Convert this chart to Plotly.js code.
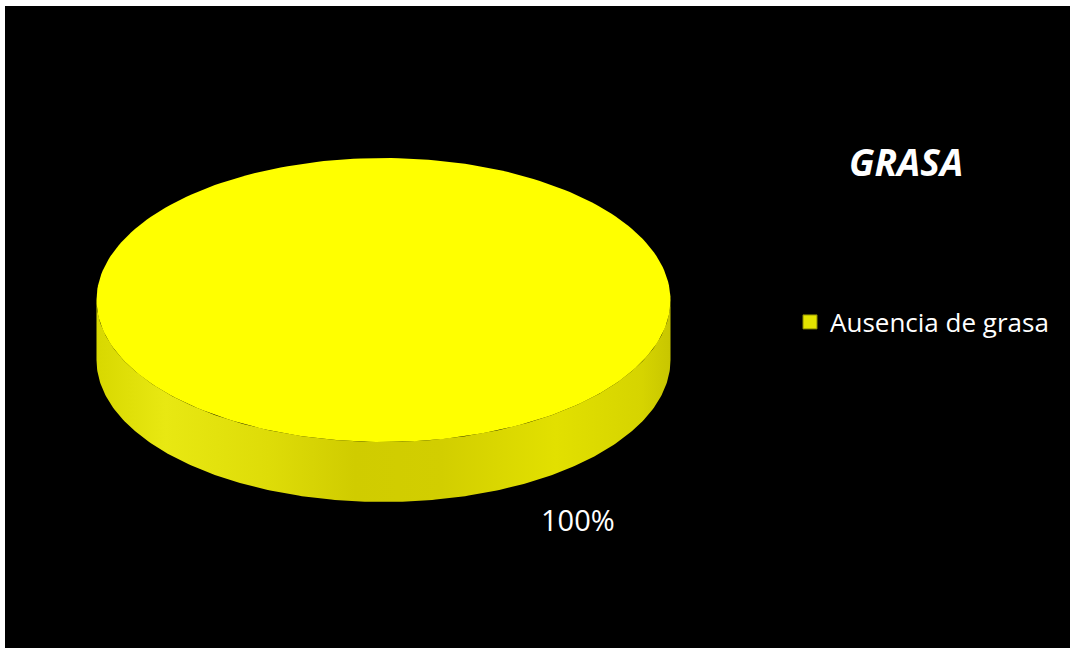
<!DOCTYPE html>
<html>
<head>
<meta charset="utf-8">
<script src="https://cdn.plot.ly/plotly-3.0.1.min.js"></script>
<style>
html,body{margin:0;padding:0;background:#ffffff;}
#chart{position:absolute;left:5px;top:6px;width:1065px;height:642px;}
</style>
</head>
<body>
<div id="chart"></div>
<script>
// Data
const chartTitle = "GRASA";
const categories = ["Ausencia de grasa"];
const values = [100];
const sliceColors = ["#FFFF00"];

// Geometry (layout)
const cx = 383.5, cy = 300, rx = 287, ry = 142, depth = 60, N = 240;
const total = values.reduce((a, b) => a + b, 0);

const traces = [];
let start = 0;
values.forEach((v, i) => {
  const frac = v / total;
  const span = frac * 2 * Math.PI;
  // side wall (visible front half only)
  const sx = [], sy = [];
  for (let k = 0; k <= N; k++) {
    const t = (k / N) * Math.PI;
    sx.push(cx + rx * Math.cos(t)); sy.push(cy + ry * Math.sin(t));
  }
  for (let k = N; k >= 0; k--) {
    const t = (k / N) * Math.PI;
    sx.push(cx + rx * Math.cos(t)); sy.push(cy + depth + ry * Math.sin(t));
  }
  traces.push({
    type: "scatter", mode: "lines", x: sx, y: sy, fill: "toself",
    line: {width: 0, color: "rgba(0,0,0,0)"},
    fillgradient: {type: "horizontal", colorscale: [
      [0, "#D8D800"], [0.12, "#E8E812"], [0.3, "#DEDC08"], [0.45, "#D0CC00"],
      [0.6, "#D2CE00"], [0.8, "#E2E000"], [0.95, "#D6D400"], [1, "#C8C600"]]},
    hoverinfo: "skip", showlegend: false
  });
  // top face
  const tx = [], ty = [];
  for (let k = 0; k <= N; k++) {
    const t = start + (k / N) * span;
    tx.push(cx + rx * Math.cos(t)); ty.push(cy + ry * Math.sin(t));
  }
  if (frac < 1) { tx.push(cx); ty.push(cy); tx.push(tx[0]); ty.push(ty[0]); }
  traces.push({
    type: "scatter", mode: "lines", x: tx, y: ty, fill: "toself",
    fillcolor: sliceColors[i], line: {width: 0, color: sliceColors[i]},
    name: categories[i], hoverinfo: "name", showlegend: false
  });
  // legend entry
  traces.push({
    type: "scatter", mode: "markers", x: [null], y: [null],
    marker: {symbol: "square", size: 14, color: "#E4E400", line: {color: "#8A8A00", width: 1}},
    name: categories[i], showlegend: true
  });
  start += span;
});

const layout = {
  width: 1065, height: 642,
  margin: {l: 0, r: 0, t: 0, b: 0},
  paper_bgcolor: "#000000", plot_bgcolor: "#000000",
  xaxis: {range: [5, 1070], visible: false, fixedrange: true},
  yaxis: {range: [648, 6], visible: false, fixedrange: true},
  showlegend: true,
  legend: {
    x: (790 - 5) / 1065, y: 1 - (322 - 6) / 642, xanchor: "left", yanchor: "middle",
    bgcolor: "rgba(0,0,0,0)", font: {family: "'Open Sans', sans-serif", size: 26, color: "#ffffff"},
    itemwidth: 30
  },
  annotations: [
    {text: "<b><i>" + chartTitle + "</i></b>", xref: "x", yref: "y", x: 906, y: 161,
     showarrow: false, font: {family: "'Open Sans', sans-serif", size: 37, color: "#ffffff"}},
    {text: Math.round(values[0] / total * 100) + "%", xref: "x", yref: "y", x: 578, y: 519,
     showarrow: false, font: {family: "'Open Sans', sans-serif", size: 29, color: "#ffffff"}}
  ]
};

Plotly.newPlot("chart", traces, layout, {staticPlot: true, displayModeBar: false});
</script>
</body>
</html>
